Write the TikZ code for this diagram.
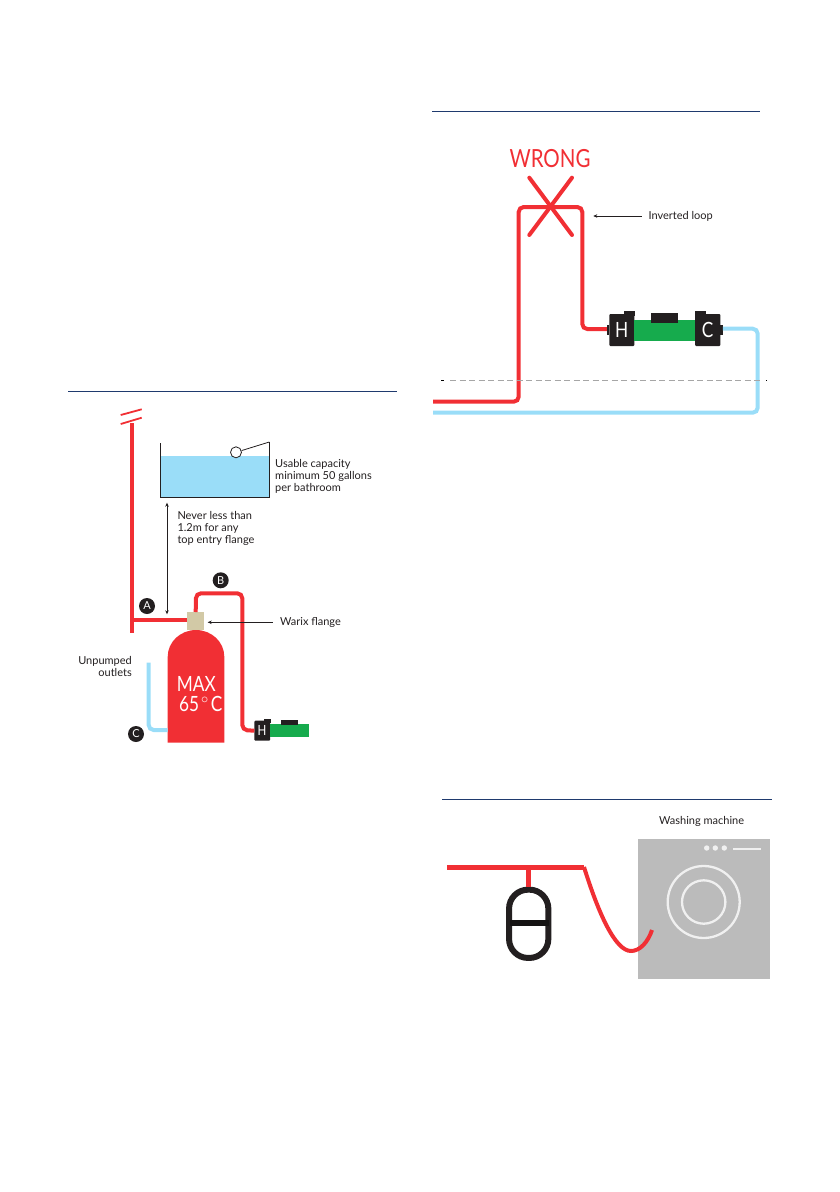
\documentclass[tikz,border=0pt]{standalone}
\usepackage{fontspec}
\setmainfont{Lato}
\newfontfamily\narrowfont[FakeStretch=0.82]{Lato}
\usepackage{xcolor}
\usetikzlibrary{positioning,arrows.meta,calc}
\definecolor{piperot}{HTML}{F12F34}
\definecolor{pipeblau}{HTML}{9ADDF8}
\definecolor{pumpgreen}{HTML}{16AB4D}
\definecolor{pumpblack}{HTML}{231F20}
\definecolor{rulenavy}{HTML}{1F3A6E}
\definecolor{flangetan}{HTML}{D2C9A6}
\definecolor{machinegrey}{HTML}{BBBBBB}
\definecolor{machinewhite}{HTML}{F0F0F0}
\tikzset{
  rulebar/.style   = {draw=rulenavy, line width=1pt},
  hotpipe/.style   = {draw=piperot, line width=4pt, rounded corners=5pt},
  coldpipe/.style  = {draw=pipeblau, line width=4pt, rounded corners=5pt},
  etiqueta/.style  = {font=\fontsize{11}{12}\selectfont, align=left, inner sep=0pt, text=pumpblack},
  badge/.style     = {circle, fill=pumpblack, text=white, minimum size=16pt, inner sep=0pt,
                      font=\fontsize{11}{11}\selectfont},
  thinline/.style  = {draw=pumpblack, line width=0.6pt},
  flecha/.style    = {thinline, -{Stealth[length=4pt,width=3.5pt]}},
  dobleflecha/.style = {thinline, {Stealth[length=4pt,width=3.5pt]}-{Stealth[length=4pt,width=3.5pt]}},
  block/.style     = {inner sep=0pt, outer sep=0pt},
  bigtext/.style   = {inner sep=0pt, font=\narrowfont\fontsize{21}{20}\selectfont},
  pumpcap/.style   = {block, bigtext, fill=pumpblack, rounded corners=1pt, text=white},
  pumpbody/.style  = {block, fill=pumpgreen},
  pumpbar/.style   = {block, fill=pumpblack},
  dial/.style      = {draw=machinewhite, line width=2.3pt},
  knob/.style      = {circle, fill=machinewhite, minimum size=5.4pt, inner sep=0pt}
}
\begin{document}
\begin{tikzpicture}[x=1pt,y=-1pt]
  \useasboundingbox (0,0) rectangle (840,1192);

  \coordinate (ruleAl) at (68,391.7);
  \coordinate (ruleAr) at (397,391.7);
  \draw[rulebar] (ruleAl) -- (ruleAr);

  \node[block, fill=pipeblau, minimum width=108.6pt, minimum height=41.3pt] (water) at (215,476.7) {};
  \coordinate (tanktl) at (160.7,443);
  \coordinate (tanktr) at (269.3,442);
  \draw[thinline, line width=0.8pt] (tanktl) -- (water.south west) -- (water.south east) -- (tanktr);
  \node[circle, draw=pumpblack, fill=white, line width=0.8pt, minimum size=11pt, inner sep=0pt] (ball) at (236,452.3) {};
  \draw[thinline, line width=0.8pt] (ball) -- (tanktr);
  \node[etiqueta, anchor=north west] (usable) at (275,459.5) {Usable capacity\\minimum 50 gallons\\per bathroom};

  \coordinate (riser) at (132,423);
  \coordinate (riserfoot) at (132,633);
  \node[block, fill=flangetan, minimum width=16.7pt, minimum height=18pt] (flange) at (195.7,621) {};
  \coordinate (tee) at (132,620);
  \draw[hotpipe] (riser) -- (riserfoot);
  \draw[hotpipe] (tee) -- (tee -| flange.west);
  \draw[draw=piperot, line width=1.8pt] (120.7,415) -- (141.7,409.3);
  \draw[draw=piperot, line width=1.8pt] (120.7,424) -- (141.7,417.7);

  \draw[dobleflecha] (167,502.7) -- (167,614.3);
  \node[etiqueta, anchor=north west] (never) at (177.3,511.5) {Never less than\\1.2m for any\\top entry flange};

  \node[badge] (badgeA) at (147,606) {A};
  \node[badge] (badgeB) at (220.7,580.3) {B};
  \node[badge] (badgeC) at (136,734) {C};

  \fill[piperot] (167.7,742.7) -- (167.7,656.7) arc[start angle=180, end angle=0, x radius=28.3, y radius=-26.7] -- (224.3,742.7) -- cycle;
  \node[bigtext, text=white, anchor=west, align=left] (maxtext) at (176.7,694) {MAX\\\hspace{2.3pt}65\kern2pt$^{\circ}$\kern2ptC};

  \node[pumpcap, minimum width=15.7pt, minimum height=20pt] (Hsmall) at (262.2,730.7) {};
  \node[pumpbody, minimum width=39pt, minimum height=12.7pt, anchor=west] (greensmall) at (Hsmall.east) {};
  \node[pumpbar, minimum width=17pt, minimum height=5.3pt] (barsmall) at (289.5,722.7) {};
  \node[pumpbar, minimum width=6.7pt, minimum height=4pt] (tabsmall) at (267.3,721) {};
  \node[text=white, font=\narrowfont\fontsize{14}{14}\selectfont, inner sep=0pt] (Hsmalltext) at (262,730.7) {H};
  \draw[hotpipe] (flange.north) -- (196,593.3) -- (242.3,593.3) -- (242.3,730) -- (Hsmall.west);

  \coordinate (coldtop) at (148.7,662.7);
  \draw[coldpipe] (coldtop) -- (148.7,730) -- (167.7,730);
  \node[etiqueta, align=right, anchor=north east] (unpumped) at (132,656.5) {Unpumped\hspace{4pt}\\outlets};

  \coordinate (warixtail) at (272.7,622.3);
  \coordinate (warixtip) at (207.7,622.3);
  \node[etiqueta, anchor=west] (warix) at (280,622.3) {Warix flange};
  \draw[flecha] (warixtail) -- (warixtip);

  \coordinate (ruleBl) at (432.3,111.7);
  \coordinate (ruleBr) at (759.7,111.7);
  \draw[rulebar] (ruleBl) -- (ruleBr);

  \node[text=piperot, font=\narrowfont\fontsize{25}{25}\selectfont, inner sep=0pt] (wrong) at (550,158.3) {WRONG};

  \node[pumpcap, minimum width=25pt, minimum height=32pt] (Hbig) at (621.8,330) {H};
  \node[pumpcap, minimum width=25.3pt, minimum height=32pt] (Cbig) at (707.7,330) {C};
  \node[pumpbody, minimum width=60.7pt, minimum height=20.7pt] (greenbig) at (664.7,330.3) {};
  \node[pumpbar, minimum width=27pt, minimum height=9.4pt] (barbig) at (664.5,318) {};
  \node[pumpbar, minimum width=11pt, minimum height=5pt] (tabH) at (629.5,313.5) {};
  \node[pumpbar, minimum width=11pt, minimum height=5pt] (tabC) at (700.5,313.5) {};
  \node[pumpbar, minimum width=2.4pt, minimum height=10pt, anchor=east] (nubH) at (Hbig.west) {};
  \node[pumpbar, minimum width=2.4pt, minimum height=10pt, anchor=west] (nubC) at (Cbig.east) {};

  \coordinate (hotin) at (433,401.7);
  \coordinate (coldin) at (433,412.7);
  \draw[hotpipe] (hotin) -- (518.7,401.7) -- (518.7,207) -- (582.3,207) -- (582.3,329) -- (nubH.west |- 0,329);
  \draw[coldpipe] (coldin) -- (757.7,412.7) -- (757.7,328.7) -- (nubC.east |- 0,328.7);

  \draw[draw=gray!70, line width=0.8pt, dash pattern=on 6pt off 3.5pt] (450,380.7) -- (761,380.7);
  \draw[draw=black, line width=0.8pt] (441,380.7) -- (443.7,380.7);
  \draw[draw=black, line width=0.8pt] (766,380.7) -- (767,380.7);

  \draw[draw=piperot, line width=4pt, line cap=round] (529.3,177.7) -- (572,235);
  \draw[draw=piperot, line width=4pt, line cap=round] (572,177.7) -- (529.3,235);

  \node[etiqueta, anchor=west] (inverted) at (648.3,216) {Inverted loop};
  \coordinate (loopend) at (593.3,216);
  \draw[flecha] (inverted.west) ++(-6.6,0) -- (loopend);

  \coordinate (ruleCl) at (442.3,799.3);
  \coordinate (ruleCr) at (771.7,799.3);
  \draw[rulebar] (ruleCl) -- (ruleCr);

  \node[etiqueta, anchor=west] (washing) at (659,821) {Washing machine};
  \node[block, fill=machinegrey, minimum width=132pt, minimum height=139.4pt] (machine) at (704,909) {};
  \node[knob] (knobA) at (706.7,848) {};
  \node[knob] (knobB) at (715.3,848) {};
  \node[knob] (knobC) at (724.3,848) {};
  \draw[machinewhite, line width=1.7pt] (733.3,848.7) -- (761,848.7);
  \node[circle, dial, minimum size=72pt, inner sep=0pt] (drum) at (703.7,902) {};
  \node[circle, dial, minimum size=43.4pt, inner sep=0pt] (door) at (703.7,902) {};

  \coordinate (linestart) at (447,867);
  \coordinate (linebend) at (584,867);
  \node[draw=pumpblack, line width=6pt, rounded corners=19pt, minimum width=39.3pt, minimum height=68.3pt, inner sep=0pt, outer sep=3pt] (vessel) at (528.7,923.8) {};
  \draw[draw=piperot, line width=5pt] (linestart) -- (linebend);
  \draw[draw=piperot, line width=5pt] (vessel.north |- linebend) -- (vessel.north);
  \draw[draw=piperot, line width=4pt] (linebend) .. controls (598,912) and (615,951) .. (631,951) .. controls (640,951) and (648,942) .. (652,930);
  \draw[draw=pumpblack!60!black, line width=6pt] (510.3,922.7) -- (549,922.7);
\end{tikzpicture}
\end{document}
